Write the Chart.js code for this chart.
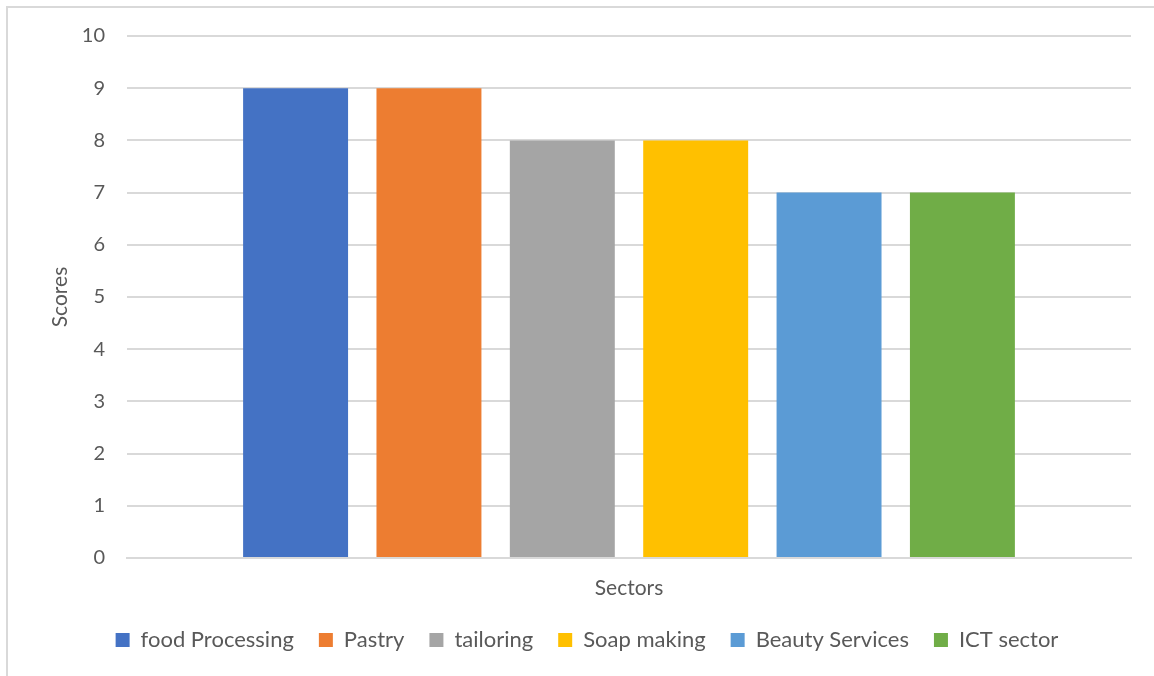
<!DOCTYPE html>
<html lang="en">
<head>
<meta charset="UTF-8" />
<title>Scores by Sector</title>
<script src="https://cdn.jsdelivr.net/npm/chart.js@4"></script>
<style>
  html, body { margin: 0; padding: 0; background: #fff; }
  #wrap { width: 1154px; height: 676px; position: relative; }
</style>
</head>
<body>
<div id="wrap"><canvas id="myChart"></canvas></div>
<script>
  const sectors = ["food Processing", "Pastry", "tailoring", "Soap making", "Beauty Services", "ICT sector"];
  const scores = [9, 9, 8, 8, 7, 7];
  const colors = ["#4472C4", "#ED7D31", "#A5A5A5", "#FFC000", "#5B9BD5", "#70AD47"];
  const categories = ["Sectors"];

  const textColor = "#595959";
  const gridColor = "#d9d9d9";
  const fontFamily = "Lato, 'Open Sans', sans-serif";

  // light frame along the top and left like the original screenshot
  const frame = {
    id: "frame",
    afterDraw(chart) {
      const c = chart.ctx;
      c.save();
      c.strokeStyle = "#d9d9d9";
      c.lineWidth = 2;
      c.beginPath();
      c.moveTo(7, 676);
      c.lineTo(7, 7);
      c.lineTo(1154, 7);
      c.stroke();
      c.restore();
    }
  };

  const ctx = document.getElementById("myChart").getContext("2d");
  new Chart(ctx, {
    type: "bar",
    data: {
      labels: categories,
      datasets: sectors.map((name, i) => ({
        label: name,
        data: [scores[i]],
        backgroundColor: colors[i],
        borderWidth: 0,
        categoryPercentage: 0.797,
        barPercentage: 0.787,
      })),
    },
    options: {
      responsive: true,
      maintainAspectRatio: false,
      animation: false,
      layout: { padding: { left: 43, right: 23, top: 36, bottom: 15 } },
      plugins: {
        tooltip: { enabled: false },
        legend: {
          position: "bottom",
          labels: {
            color: textColor,
            font: { family: fontFamily, size: 22 },
            boxWidth: 14,
            boxHeight: 14,
            padding: 25,
          },
        },
      },
      scales: {
        x: {
          grid: { display: false },
          border: { color: gridColor, width: 2 },
          ticks: { display: false },
          title: {
            display: true,
            text: "Sectors",
            color: textColor,
            font: { family: fontFamily, size: 21 },
            padding: { top: 10, bottom: 3 },
          },
          afterFit(scale) { scale.height = 46; },
        },
        y: {
          min: 0,
          max: 10,
          ticks: {
            stepSize: 1,
            color: textColor,
            font: { family: fontFamily, size: 20 },
            padding: 22,
          },
          grid: { color: gridColor, lineWidth: 2, drawTicks: false },
          border: { display: false },
          title: {
            display: true,
            text: "Scores",
            color: textColor,
            font: { family: fontFamily, size: 21 },
            padding: { top: 5, bottom: 0 },
          },
          afterFit(scale) { scale.width = 84; },
        },
      },
    },
    plugins: [frame],
  });
</script>
</body>
</html>
